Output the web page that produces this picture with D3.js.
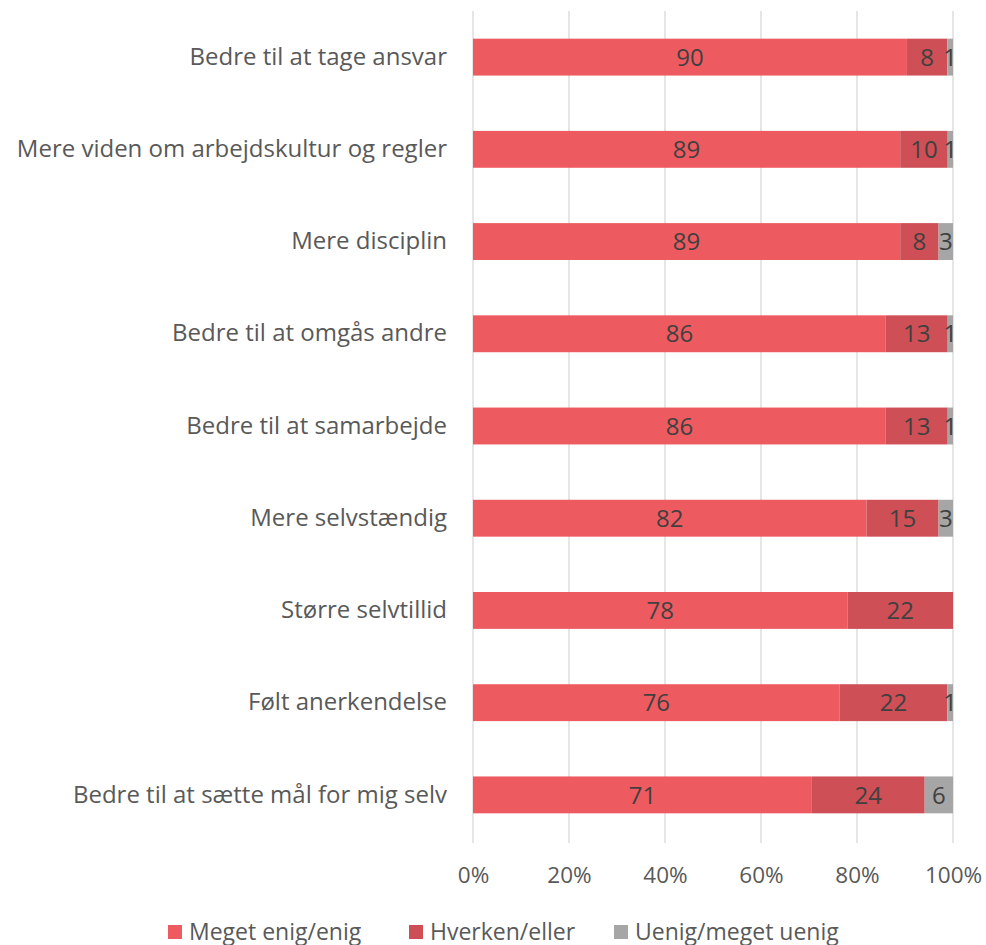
<!DOCTYPE html>
<html>
<head>
<meta charset="utf-8">
<script src="https://cdn.jsdelivr.net/npm/d3@7"></script>
<style>
  body { margin: 0; background: #fff; }
  text { font-family: "Open Sans", sans-serif; }
</style>
</head>
<body>
<div id="chart"></div>
<script>
// Kategorier (oppefra og ned)
const categories = [
  "Bedre til at tage ansvar",
  "Mere viden om arbejdskultur og regler",
  "Mere disciplin",
  "Bedre til at omgås andre",
  "Bedre til at samarbejde",
  "Mere selvstændig",
  "Større selvtillid",
  "Følt anerkendelse",
  "Bedre til at sætte mål for mig selv"
];
const seriesNames = ["Meget enig/enig", "Hverken/eller", "Uenig/meget uenig"];
const enig    = [90.4, 89.0, 89.0, 86.0, 86.0, 82.0, 78.0, 76.4, 70.6];
const hverken = [8.4, 9.9, 8.0, 12.9, 12.9, 15.0, 22.0, 22.4, 23.5];
const uenig   = [1.2, 1.1, 3.0, 1.1, 1.1, 3.0, 0, 1.2, 5.9];
const xTicks  = [0, 20, 40, 60, 80, 100];
const colors  = ["#ED5B61", "#CE4F55", "#A6A6A6"];

const width = 986, height = 945;
const x0 = 473, x1 = 953;

const svg = d3.select("#chart").append("svg")
  .attr("width", width)
  .attr("height", height);

const x = d3.scaleLinear().domain([0, 100]).range([x0, x1]);
const y = d3.scaleBand().domain(categories).range([11, 841]).paddingInner(0.6).paddingOuter(0.3);

// Gitterlinjer
svg.append("g")
  .selectAll("line")
  .data(xTicks)
  .join("line")
  .attr("x1", d => x(d)).attr("x2", d => x(d))
  .attr("y1", 11).attr("y2", 843)
  .attr("stroke", "#D9D9D9")
  .attr("stroke-width", 1.3);

// Stablede data
const keys = ["s0", "s1", "s2"];
const rows = categories.map((c, i) => ({ cat: c, s0: enig[i], s1: hverken[i], s2: uenig[i] }));
const stack = d3.stack().keys(keys)(rows);

const layers = svg.append("g")
  .selectAll("g")
  .data(stack)
  .join("g")
  .attr("fill", (d, i) => colors[i]);

layers.selectAll("rect")
  .data(d => d)
  .join("rect")
  .attr("x", d => x(d[0]))
  .attr("y", d => y(d.data.cat))
  .attr("width", d => x(d[1]) - x(d[0]))
  .attr("height", y.bandwidth());

// Dataetiketter
layers.selectAll("text")
  .data(layer => layer.filter(v => v.data[layer.key] > 0).map(v => ({ v, val: v.data[layer.key] })))
  .join("text")
  .attr("x", d => (x(d.v[0]) + x(d.v[1])) / 2)
  .attr("y", d => y(d.v.data.cat) + y.bandwidth() / 2)
  .attr("dy", "0.36em")
  .attr("text-anchor", "middle")
  .attr("fill", "#404040")
  .attr("font-size", 24)
  .text(d => Math.round(d.val));

// Y-akse etiketter
const yAxis = svg.append("g")
  .attr("transform", `translate(${x0 - 8},0)`)
  .call(d3.axisLeft(y).tickSize(0).tickPadding(18));
yAxis.select(".domain").remove();
yAxis.selectAll("text")
  .attr("fill", "#595959")
  .attr("font-size", 24)
  .attr("font-family", "Open Sans, sans-serif");

// X-akse etiketter
const xAxis = svg.append("g")
  .attr("transform", "translate(0,864)")
  .call(d3.axisBottom(x).tickValues(xTicks).tickFormat(d => d + "%").tickSize(0));
xAxis.select(".domain").remove();
xAxis.selectAll("text")
  .attr("fill", "#595959")
  .attr("font-size", 22.5)
  .attr("font-family", "Open Sans, sans-serif");

// Forklaring
const legendX = [168, 409, 614];
const legend = svg.append("g")
  .selectAll("g")
  .data(seriesNames)
  .join("g")
  .attr("transform", (d, i) => `translate(${legendX[i]},925)`);
legend.append("rect")
  .attr("width", 14).attr("height", 14)
  .attr("fill", (d, i) => colors[i]);
legend.append("text")
  .attr("x", 21)
  .attr("y", 7)
  .attr("dy", "0.36em")
  .attr("fill", "#595959")
  .attr("font-size", 23)
  .text(d => d);
</script>
</body>
</html>
